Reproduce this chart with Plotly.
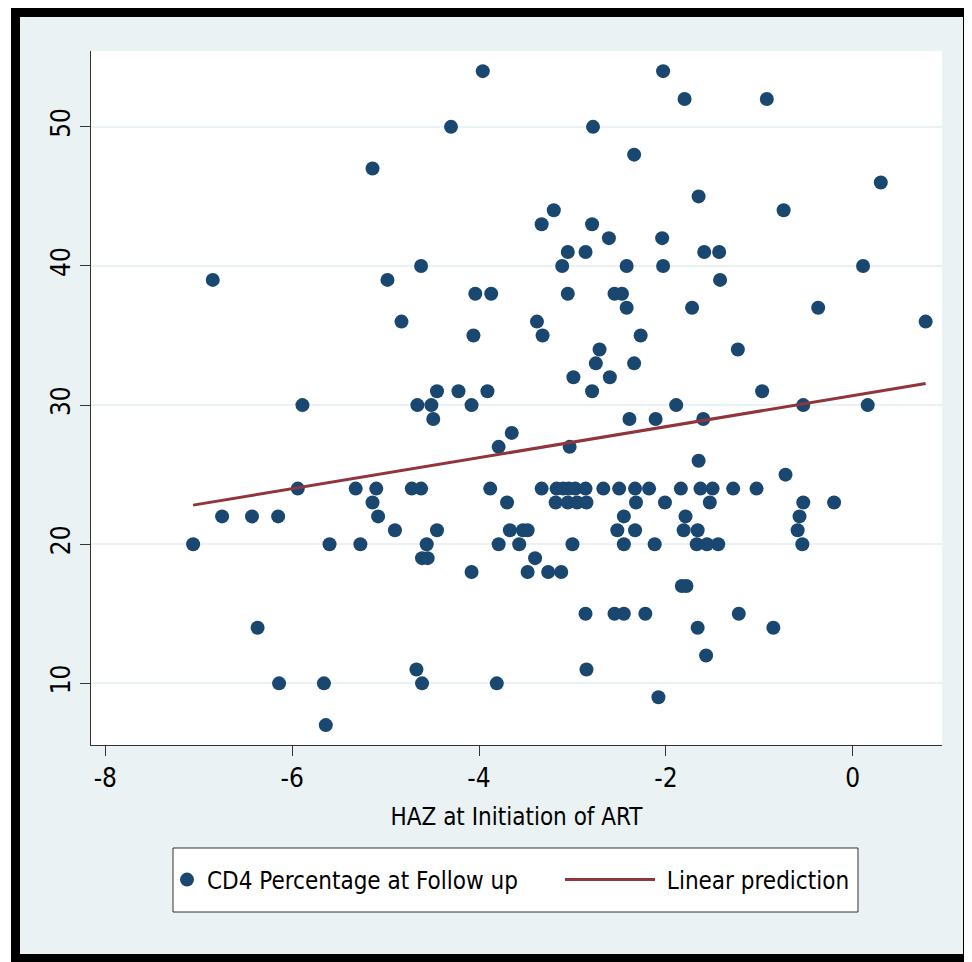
import plotly.graph_objects as go

# ---- data ----
haz = [
    -5.64,
    -2.08,
    -6.14, -5.66, -4.61, -3.81,
    -4.67, -2.85,
    -1.57,
    -6.37, -1.66, -0.85,
    -2.86, -2.55, -2.45, -2.22, -1.22,
    -1.83, -1.78,
    -4.08, -3.48, -3.26, -3.12,
    -4.61, -4.55, -3.40,
    -7.06, -5.60, -5.27, -4.56, -3.79, -3.57, -3.00, -2.45, -2.12, -1.67, -1.56, -1.44, -0.54,
    -4.90, -4.45, -3.67, -3.53, -3.48, -2.52, -2.33, -1.81, -1.66, -0.59,
    -6.75, -6.43, -6.15, -5.08, -2.45, -1.79, -0.57,
    -5.14, -3.70, -3.18, -3.05, -2.95, -2.85, -2.32, -2.01, -1.53, -0.53, -0.20,
    -5.94, -5.32, -5.10, -4.72, -4.62, -3.88, -3.33, -3.17, -3.10, -3.04, -2.97, -2.86,
    -2.67, -2.50, -2.33, -2.18, -1.84, -1.63, -1.50, -1.28, -1.03,
    -0.72,
    -1.65,
    -3.79, -3.03,
    -3.65,
    -4.49, -2.39, -2.11, -1.60,
    -5.89, -4.66, -4.51, -4.08, -1.89, -0.53, 0.16,
    -4.45, -4.22, -3.91, -2.79, -0.97,
    -2.99, -2.60,
    -2.75, -2.34,
    -2.71, -1.23,
    -4.06, -3.32, -2.27,
    -4.83, -3.38, 0.78,
    -2.42, -1.72, -0.37,
    -4.04, -3.87, -3.05, -2.55, -2.47,
    -6.85, -4.98, -1.42,
    -4.62, -3.11, -2.42, -2.03, 0.11,
    -3.05, -2.86, -1.59, -1.43,
    -2.61, -2.04,
    -3.33, -2.79,
    -3.20, -0.74,
    -1.65,
    0.30,
    -5.14,
    -2.34,
    -4.30, -2.78,
    -1.80, -0.92,
    -3.96, -2.03,
]
cd4 = (
    [7]
    + [9]
    + [10] * 4
    + [11] * 2
    + [12]
    + [14] * 3
    + [15] * 5
    + [17] * 2
    + [18] * 4
    + [19] * 3
    + [20] * 13
    + [21] * 10
    + [22] * 7
    + [23] * 11
    + [24] * 21
    + [25]
    + [26]
    + [27] * 2
    + [28]
    + [29] * 4
    + [30] * 7
    + [31] * 5
    + [32] * 2
    + [33] * 2
    + [34] * 2
    + [35] * 3
    + [36] * 3
    + [37] * 3
    + [38] * 5
    + [39] * 3
    + [40] * 5
    + [41] * 4
    + [42] * 2
    + [43] * 2
    + [44] * 2
    + [45]
    + [46]
    + [47]
    + [48]
    + [50] * 2
    + [52] * 2
    + [54] * 2
)
fit_x = [-7.06, 0.78]
fit_y = [22.81, 31.55]

x_ticks = [-8, -6, -4, -2, 0]
y_ticks = [10, 20, 30, 40, 50]

# ---- layout geometry (page pixels; the page body adds an 8px offset) ----
W, H = 972, 962
OFF = 8
L, R, T, B = 91, 942, 51, 745


def px(xp):
    return (xp - L) / (R - L)


def py(yp):
    return (B - yp) / (B - T)


FONT = "Liberation Sans Narrow, Arial Narrow, DejaVu Sans Condensed, sans-serif"
NAVY = "#1A476F"
MAROON = "#90353B"
BG = "#EAF2F3"
AX = "#333333"

fig = go.Figure()
fig.add_trace(go.Scatter(
    x=haz, y=cd4, mode="markers", name="CD4 Percentage at Follow up",
    marker=dict(color=NAVY, size=14, line=dict(width=0)),
    legend="legend",
))
fig.add_trace(go.Scatter(
    x=fit_x, y=fit_y, mode="lines", name="\u00a0Linear prediction",
    line=dict(color=MAROON, width=3),
    legend="legend2",
))


def rect(x0, x1, y0, y1, fill, lc=None, lw=0):
    return dict(type="rect", xref="paper", yref="paper", layer="above",
                x0=px(x0), x1=px(x1), y0=py(y1), y1=py(y0),
                fillcolor=fill, line=dict(color=lc or fill, width=lw))


shapes = [
    rect(173, 858, 848, 912, "white", AX, 1),      # legend box
    rect(OFF, 11, OFF, H, "white"),                # outer white strip left
    rect(11, W, OFF, 17, "black"),                 # frame top
    rect(11, 20, OFF, H, "black"),                 # frame left
    rect(11, W, 954, H, "black"),                  # frame bottom
    rect(963, W, OFF, H, "black"),                 # frame right
]

fig.update_layout(
    width=W - OFF, height=H - OFF,
    margin=dict(l=L - OFF, r=W - R, t=T - OFF, b=H - B, pad=0),
    paper_bgcolor=BG, plot_bgcolor="white",
    font=dict(family=FONT, size=25, color="black"),
    showlegend=True,
    legend=dict(
        x=px(167), y=py(880), xanchor="left", yanchor="middle",
        bgcolor="rgba(0,0,0,0)", borderwidth=0,
        font=dict(family=FONT, size=24, color="black"),
        itemwidth=30,
    ),
    legend2=dict(
        x=px(560), y=py(880), xanchor="left", yanchor="middle",
        bgcolor="rgba(0,0,0,0)", borderwidth=0,
        font=dict(family=FONT, size=24, color="black"),
        itemwidth=90,
    ),
    xaxis=dict(
        range=[-8.153, 0.955], tickvals=x_ticks, ticktext=[str(v) for v in x_ticks],
        ticks="outside", ticklen=10, tickwidth=1, tickcolor=AX,
        showline=True, linecolor=AX, linewidth=1,
        showgrid=False, zeroline=False,
        tickfont=dict(family=FONT, size=26),
        title=dict(text="HAZ at Initiation of ART", font=dict(family=FONT, size=24), standoff=15),
    ),
    yaxis=dict(
        range=[5.57, 55.45], tickvals=y_ticks, ticktext=[str(v) for v in y_ticks],
        tickangle=-90,
        ticks="outside", ticklen=10, tickwidth=1, tickcolor=AX,
        showline=True, linecolor=AX, linewidth=1,
        showgrid=True, gridcolor=BG, gridwidth=2,
        zeroline=False,
        tickfont=dict(family=FONT, size=26),
    ),
    shapes=shapes,
)

fig.write_html("out.html")
